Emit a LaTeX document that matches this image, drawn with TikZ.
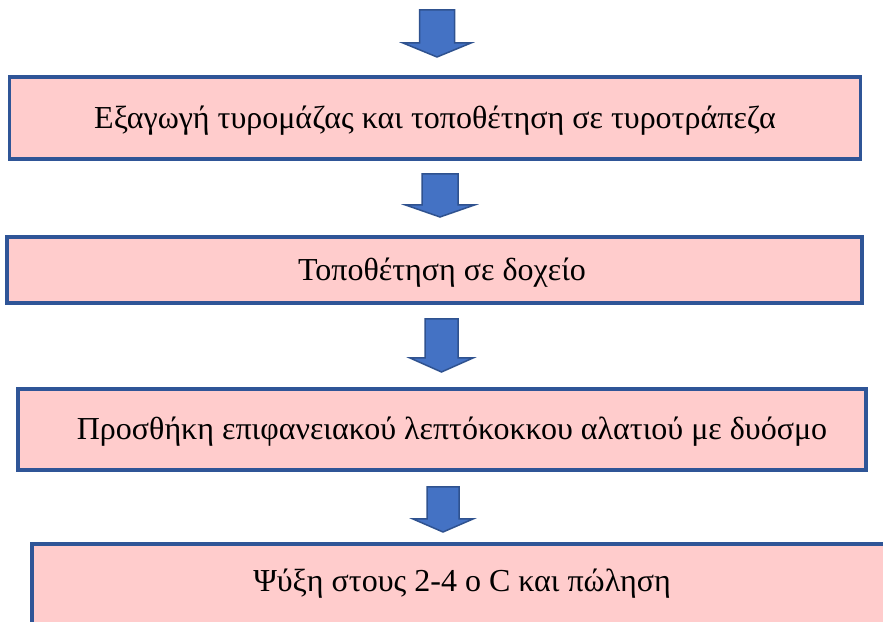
\documentclass[tikz,border=0pt]{standalone}
\usepackage{fontspec}
\setmainfont{Liberation Serif}
\definecolor{boxfill}{HTML}{FFCCCC}
\definecolor{boxline}{HTML}{2F5597}
\definecolor{arrfill}{HTML}{4472C4}
\definecolor{arrline}{HTML}{2F528F}
\tikzset{
  stepbox/.style={draw=boxline, line width=3.2pt, fill=boxfill, rectangle, inner sep=0pt},
  steptext/.style={inner sep=0pt, font=\fontsize{32}{38}\selectfont, anchor=center},
  blockarr/.style={draw=arrline, line width=1.5pt, fill=arrfill, line join=miter}
}
% cx, top, shaft half, head half, base, tip  (pixel coords, y down)
\newcommand{\blockarrow}[6]{%
  \draw[blockarr] (#1-#3,621-#2) -- (#1+#3,621-#2) -- (#1+#3,621-#5) -- (#1+#4,621-#5)
    -- (#1,621-#6) -- (#1-#4,621-#5) -- (#1-#3,621-#5) -- cycle;}
\begin{document}
\begin{tikzpicture}[x=1pt,y=1pt]
\useasboundingbox (0,0) rectangle (883,621);
\clip (0,0) rectangle (883,621);
% boxes
\node[stepbox, minimum width=851pt, minimum height=82pt] (b1) at (435.25,621-118) {};
\node[stepbox, minimum width=855pt, minimum height=66pt] (b2) at (434.5,621-270) {};
\node[stepbox, minimum width=848pt, minimum height=81pt] (b3) at (442,621-429.5) {};
\node[stepbox, minimum width=880pt, minimum height=100pt] (b4) at (472,621-594) {};
% texts
\node[steptext] (t1) at (435,621-121) {Εξαγωγή τυρομάζας και τοποθέτηση σε τυροτράπεζα};
\node[steptext] (t2) at (442,621-273) {Τοποθέτηση σε δοχείο};
\node[steptext] (t3) at (452,621-432) {Προσθήκη επιφανειακού λεπτόκοκκου αλατιού με δυόσμο};
\node[steptext] (t4) at (462,621-584) {Ψύξη στους 2-4 ο C και πώληση};
% arrows
\blockarrow{437}{10}{17.5}{34}{43}{57}
\blockarrow{440}{174}{18}{34.5}{205}{217}
\blockarrow{441.5}{319}{16.5}{31.5}{358}{372}
\blockarrow{443}{487}{16}{30}{519}{532}
\end{tikzpicture}
\end{document}
